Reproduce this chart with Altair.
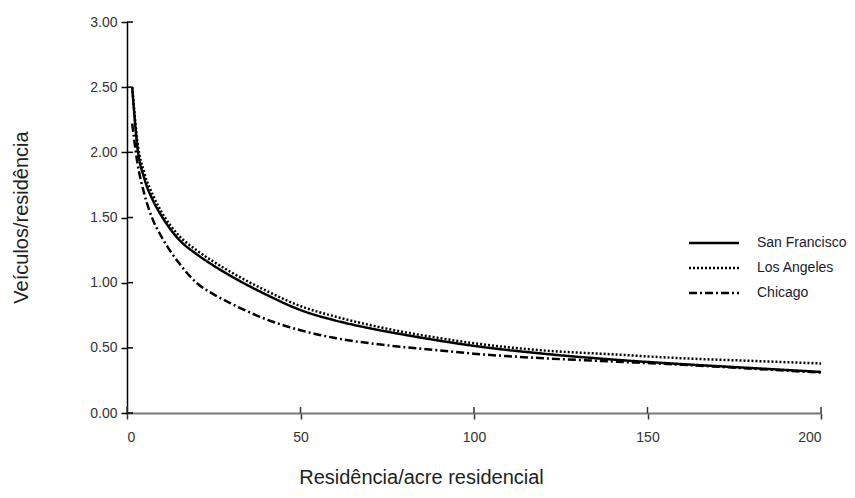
import altair as alt
import pandas as pd

# ---- data ----
density = [1.5, 3, 5, 7.5, 10, 15, 20, 25, 30, 40, 50, 60, 70, 80, 90, 100, 120, 140, 160, 180, 200]
san_francisco = [2.50, 2.04, 1.80, 1.63, 1.51, 1.33, 1.22, 1.13, 1.05, 0.91, 0.79, 0.71, 0.65, 0.60, 0.555, 0.515, 0.455, 0.41, 0.375, 0.345, 0.315]
los_angeles = [2.50, 2.08, 1.84, 1.67, 1.54, 1.36, 1.25, 1.16, 1.08, 0.94, 0.82, 0.74, 0.675, 0.62, 0.575, 0.535, 0.48, 0.45, 0.42, 0.40, 0.38]
chicago = [2.22, 1.92, 1.68, 1.48, 1.35, 1.15, 1.00, 0.91, 0.84, 0.72, 0.635, 0.575, 0.535, 0.505, 0.48, 0.455, 0.42, 0.395, 0.37, 0.34, 0.31]
series_names = ["San Francisco", "Los Angeles", "Chicago"]
x_ticks = [0, 50, 100, 150, 200]
y_ticks = [0.0, 0.5, 1.0, 1.5, 2.0, 2.5, 3.0]

rows = []
for name, vals in zip(series_names, [san_francisco, los_angeles, chicago]):
    for x, v in zip(density, vals):
        rows.append({"x": x, "y": v, "city": name})
df = pd.DataFrame(rows)

W, H = 694, 391
FONT = "Liberation Sans"

xscale = alt.Scale(domain=[0, 200], nice=False, zero=False)
yscale = alt.Scale(domain=[0, 3], nice=False)

lines = alt.Chart(df).mark_line(color="black", strokeWidth=2.5, interpolate="monotone").encode(
    x=alt.X("x:Q", scale=xscale,
            axis=alt.Axis(values=x_ticks, format="d", title="Residência/acre residencial",
                          grid=False, domainColor="#777777", domainWidth=2,
                          tickColor="#333333", tickWidth=1.5, tickSize=6,
                          labelFont=FONT, labelFontSize=14, labelColor="#333333", labelPadding=11,
                          titleFont=FONT, titleFontSize=20, titleFontWeight="normal", titleColor="#222222",
                          titleX=294, titleY=64, titleBaseline="middle", titleAlign="center")),
    y=alt.Y("y:Q", scale=yscale,
            axis=alt.Axis(values=y_ticks, format=".2f", title="Veículos/residência",
                          grid=False, domainColor="black", domainWidth=1.5,
                          tickColor="black", tickWidth=1.5, tickSize=6,
                          labelFont=FONT, labelFontSize=14, labelColor="#333333", labelPadding=4,
                          titleFont=FONT, titleFontSize=20, titleFontWeight="normal", titleColor="#222222",
                          titleX=-106, titleY=195, titleAngle=-90, titleBaseline="middle", titleAlign="center")),
    strokeDash=alt.StrokeDash("city:N",
                              scale=alt.Scale(domain=series_names, range=[[1, 0], [2, 2], [8, 3, 2, 3]]),
                              sort=series_names,
                              legend=alt.Legend(title=None, orient="none", legendX=573, legendY=207,
                                                symbolType="M-2,0H2", symbolSize=625, symbolStrokeWidth=2.5,
                                                symbolStrokeColor="black", symbolFillColor="transparent",
                                                labelFont=FONT, labelFontSize=14, labelColor="#1a1a2e",
                                                rowPadding=4, labelOffset=29)),
)

ydf = pd.DataFrame({"v": y_ticks})
xdf = pd.DataFrame({"v": x_ticks})

y_inner = alt.Chart(ydf).mark_rule(color="black", strokeWidth=1.5).encode(
    y=alt.Y("v:Q", scale=yscale), x=alt.value(0), x2=alt.value(6))
x_inner = alt.Chart(xdf).mark_rule(color="#333333", strokeWidth=1.5).encode(
    x=alt.X("v:Q", scale=xscale), y=alt.value(H), y2=alt.value(H - 6))

chart = alt.layer(lines, y_inner, x_inner).properties(
    width=W, height=H,
    autosize=alt.AutoSizeParams(type="none"),
    padding={"left": 119, "top": 14, "right": 26, "bottom": 77},
    background="white",
).configure_view(stroke=None)

chart.save("out.html", embed_options={"renderer": "svg", "actions": False})
